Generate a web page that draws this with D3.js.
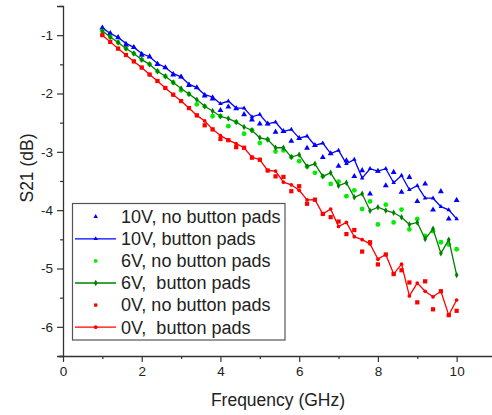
<!DOCTYPE html>
<html><head><meta charset="utf-8">
<script src="https://cdn.jsdelivr.net/npm/d3@7"></script>
<style>body{margin:0;background:#fff}svg{display:block}text{font-family:"Liberation Sans",Arial,sans-serif}</style>
</head><body><svg id="c" width="492" height="415"></svg>
<script>
const freq = [1.0,1.2,1.4,1.6,1.8,2.0,2.2,2.4,2.6,2.8,3.0,3.2,3.4,3.6,3.8,4.0,4.2,4.4,4.6,4.8,5.0,5.2,5.4,5.6,5.8,6.0,6.2,6.4,6.6,6.8,7.0,7.2,7.4,7.6,7.8,8.0,8.2,8.4,8.6,8.8,9.0,9.2,9.4,9.6,9.8,10.0];
const v10NoPads = [-0.875,-0.97,-1.04,-1.17,-1.21,-1.34,-1.37,-1.50,-1.555,-1.68,-1.715,-1.86,-1.90,
 -2.04,-2.09,-2.29,-2.23,-2.26,-2.36,-2.45,-2.52,-2.52,-2.66,-2.65,
 -2.815,-2.77,-2.935,-2.89,-3.095,-3.03,-3.245,-3.15,-3.42,-3.32,-3.72,
 -3.33,-3.58,-3.35,-3.69,-3.435,-3.85,-3.55,-3.995,-3.68,-4.15,-3.83];
const v10Pads = [-0.875,-0.97,-1.04,-1.14,-1.21,-1.315,-1.37,-1.485,-1.555,-1.66,-1.715,-1.84,-1.90,
 -2.02,-2.06,-2.175,-2.13,-2.25,-2.25,-2.40,-2.36,-2.52,-2.49,-2.65,
 -2.615,-2.765,-2.73,-2.89,-2.85,-3.03,-2.975,-3.205,-3.13,-3.45,-3.29,
 -3.33,-3.29,-3.53,-3.405,-3.65,-3.58,-3.795,-3.795,-3.94,-3.995,-4.15];
const v6NoPads = [-0.93,-1.03,-1.125,-1.23,-1.315,-1.42,-1.50,-1.62,-1.705,-1.81,-1.945,-2.01,-2.185,
 -2.22,-2.39,-2.39,-2.56,-2.49,-2.69,-2.63,-2.85,-2.79,-2.995,-2.975,
 -3.09,-3.16,-3.25,-3.36,-3.42,-3.55,-3.51,-3.76,-3.66,-3.98,-3.85,
 -4.245,-3.905,-4.21,-3.99,-4.33,-4.15,-4.44,-4.36,-4.55,-4.59,-4.67];
const v6Pads = [-0.93,-1.03,-1.125,-1.23,-1.315,-1.42,-1.50,-1.62,-1.705,-1.81,-1.915,-2.01,-2.105,
 -2.22,-2.30,-2.39,-2.43,-2.49,-2.575,-2.63,-2.76,-2.79,-2.93,-2.93,
 -3.09,-3.05,-3.25,-3.205,-3.42,-3.36,-3.58,-3.53,-3.78,-3.72,-4.01,
 -3.95,-4.005,-4.045,-4.12,-4.245,-4.21,-4.495,-4.32,-4.74,-4.505,-5.11];
const v0NoPads = [-1.0,-1.115,-1.23,-1.34,-1.45,-1.555,-1.675,-1.785,-1.905,-2.02,-2.13,-2.25,-2.375,
 -2.545,-2.615,-2.78,-2.80,-2.92,-2.93,-3.10,-3.135,-3.32,-3.42,-3.43,
 -3.675,-3.59,-3.89,-3.82,-4.065,-4.12,-4.195,-4.41,-4.34,-4.71,-4.55,
 -4.93,-4.76,-5.095,-5.03,-5.24,-5.58,-5.22,-5.70,-5.39,-5.80,-5.725];
const v0Pads = [-1.0,-1.115,-1.23,-1.34,-1.45,-1.555,-1.675,-1.785,-1.905,-2.02,-2.13,-2.25,-2.375,
 -2.47,-2.615,-2.72,-2.80,-2.86,-2.93,-3.09,-3.135,-3.32,-3.33,-3.52,
 -3.565,-3.66,-3.825,-3.82,-4.065,-3.98,-4.28,-4.21,-4.455,-4.505,-4.58,
 -4.84,-4.76,-5.095,-4.925,-5.47,-5.25,-5.39,-5.485,-5.39,-5.80,-5.54];
const xMajor = [0,2,4,6,8,10];
const xMinor = [1,3,5,7,9];
const yMajor = [-1,-2,-3,-4,-5,-6];
const yMinor = [-0.5,-1.5,-2.5,-3.5,-4.5,-5.5,-6.5];
const legendLabels = ["10V, no button pads","10V, button pads","6V, no button pads","6V,  button pads","0V, no button pads","0V,  button pads"];

const series = [
 {name:legendLabels[0], vals:v10NoPads, color:"#0000ff", line:false, sym:d3.symbolTriangle, size:15},
 {name:legendLabels[1], vals:v10Pads, color:"#0000ff", line:true, sym:d3.symbolTriangle, size:9},
 {name:legendLabels[2], vals:v6NoPads, color:"#00ee00", line:false, sym:d3.symbolCircle, size:18},
 {name:legendLabels[3], vals:v6Pads, color:"#008000", line:true, sym:d3.symbolDiamond, size:12},
 {name:legendLabels[4], vals:v0NoPads, color:"#ff0000", line:false, sym:d3.symbolSquare, size:18},
 {name:legendLabels[5], vals:v0Pads, color:"#ff0000", line:true, sym:d3.symbolCircle, size:11}
];

const svg = d3.select("#c");
const x = d3.scaleLinear().domain([0,11]).range([63,496]);
const y = d3.scaleLinear().domain([-6.5,-0.5]).range([356,6]);
const axisColor = "#333";

// axes
const gx = svg.append("g").attr("transform","translate(0,356)")
  .call(d3.axisBottom(x).tickValues(xMajor).tickSize(6).tickPadding(4).tickFormat(d3.format("d")));
gx.append("g").call(d3.axisBottom(x).tickValues(xMinor).tickSize(3).tickFormat(""));
const gy = svg.append("g").attr("transform","translate(63,0)")
  .call(d3.axisLeft(y).tickValues(yMajor).tickSize(6).tickPadding(4).tickFormat(d=>"-"+Math.abs(d)));
gy.append("g").call(d3.axisLeft(y).tickValues(yMinor).tickSize(3).tickFormat(""));
[gx,gy].forEach(g=>{
  g.selectAll("path.domain").attr("stroke",axisColor).attr("stroke-width",1.3);
  g.selectAll(".tick line").attr("stroke",axisColor).attr("stroke-width",1.2);
  g.selectAll(".tick text").attr("fill","#222").style("font-size","13.5px");
});
gx.select("path.domain").attr("d","M59,0.5H492");
gy.selectAll("g g path.domain").remove();
gx.selectAll("g g path.domain").remove();

svg.append("text").attr("x",278).attr("y",406).attr("text-anchor","middle")
  .style("font-size","17.5px").attr("fill","#222").text("Frequency (GHz)");
svg.append("text").attr("transform","translate(33,168) rotate(-90)").attr("text-anchor","middle")
  .style("font-size","17.5px").attr("fill","#222").text("S21 (dB)");

// data
const plot = svg.append("g");
series.forEach(s=>{
  const pts = freq.map((f,i)=>[f,s.vals[i]]);
  if(s.line){
    plot.append("path").datum(pts).attr("fill","none").attr("stroke",s.color).attr("stroke-width",1.3)
      .attr("d",d3.line().x(d=>x(d[0])).y(d=>y(d[1])));
  }
  plot.append("g").selectAll("path").data(pts).join("path")
    .attr("transform",d=>`translate(${x(d[0])},${y(d[1])})`)
    .attr("d",d3.symbol().type(s.sym).size(s.size)).attr("fill",s.color);
});

// legend
const lg = svg.append("g");
lg.append("rect").attr("x",72.5).attr("y",203.5).attr("width",212.5).attr("height",136.5)
  .attr("fill","#fff").attr("stroke","#555").attr("stroke-width",1.2);
series.forEach((s,i)=>{
  const cy = 216.7 + i*22.1;
  if(s.line) lg.append("line").attr("x1",75).attr("x2",116).attr("y1",cy).attr("y2",cy)
    .attr("stroke",s.color).attr("stroke-width",1.3);
  lg.append("path").attr("transform",`translate(95.7,${cy})`)
    .attr("d",d3.symbol().type(s.sym).size(s.line?s.size:s.size*0.6)).attr("fill",s.color);
  lg.append("text").attr("x",121).attr("y",cy).attr("dy","0.35em").style("font-size","18px")
    .style("white-space","pre").attr("fill","#222").text(s.name);
});
</script></body></html>
